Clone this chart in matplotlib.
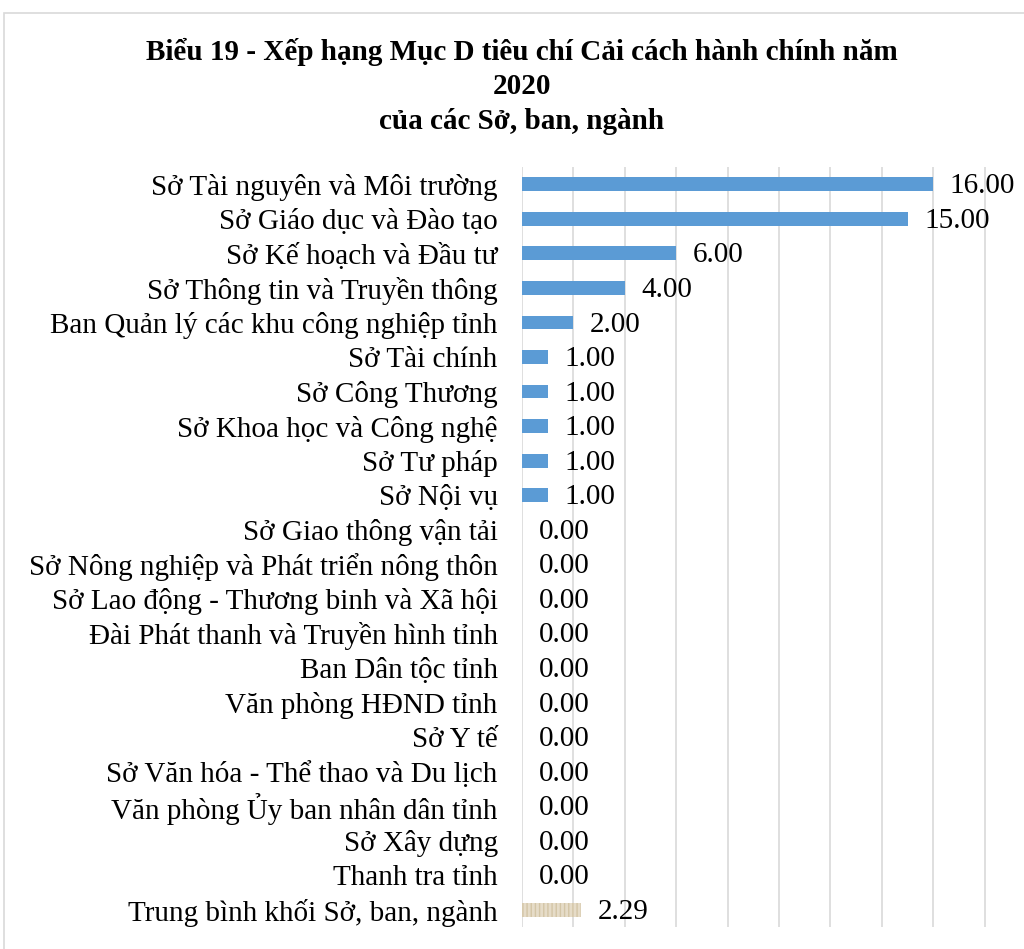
import matplotlib.pyplot as plt
from matplotlib.patches import Rectangle

plt.rcParams['font.family'] = ['Liberation Serif', 'DejaVu Serif']

units = ['Sở Tài nguyên và Môi trường', 'Sở Giáo dục và Đào tạo', 'Sở Kế hoạch và Đầu tư',
         'Sở Thông tin và Truyền thông', 'Ban Quản lý các khu công nghiệp tỉnh', 'Sở Tài chính',
         'Sở Công Thương', 'Sở Khoa học và Công nghệ', 'Sở Tư pháp', 'Sở Nội vụ',
         'Sở Giao thông vận tải', 'Sở Nông nghiệp và Phát triển nông thôn',
         'Sở Lao động - Thương binh và Xã hội', 'Đài Phát thanh và Truyền hình tỉnh',
         'Ban Dân tộc tỉnh', 'Văn phòng HĐND tỉnh', 'Sở Y tế', 'Sở Văn hóa - Thể thao và Du lịch',
         'Văn phòng Ủy ban nhân dân tỉnh', 'Sở Xây dựng', 'Thanh tra tỉnh']
scores = [16, 15, 6, 4, 2, 1, 1, 1, 1, 1, 0, 0, 0, 0, 0, 0, 0, 0, 0, 0, 0]
avg_label = 'Trung bình khối Sở, ban, ngành'
avg_score = 2.29

labels = units + [avg_label]
values = scores + [avg_score]

fig = plt.figure(figsize=(10.24, 9.49), dpi=100)
# chart area border (right/bottom edges fall outside the picture)
fig.patches.append(Rectangle((4 / 1024, -0.1), 1.2, 1 - 13 / 949 + 0.1, transform=fig.transFigure,
                             fill=False, edgecolor='#d9d9d9', linewidth=1.2))

ax = fig.add_axes([522 / 1024, 1 - 927 / 949, 514 / 1024, 760 / 949])

pos = list(range(len(labels)))
bars = ax.barh(pos, values, height=0.4, color='#5b9bd5', zorder=3)
bars[-1].set_facecolor('#e6dcc8')
bars[-1].set_hatch('||||')
bars[-1].set_edgecolor('#d3c5a6')
bars[-1].set_linewidth(0)

for p, v in zip(pos, values):
    ax.annotate(f'{v:.2f}', (v, p), xytext=(12, -1.5), textcoords='offset points',
                va='center', ha='left', fontsize=21)

ax.set_xlim(0, 20)
ax.set_ylim(len(labels) - 0.5, -0.5)
ax.set_xticks(range(0, 21, 2))
ax.set_xticklabels([])
ax.set_yticks(pos)
ax.set_yticklabels(labels, fontsize=21)
ax.tick_params(axis='both', length=0)
ax.tick_params(axis='y', pad=17.5)
ax.grid(axis='x', color='#d9d9d9', linewidth=1.2, zorder=0)
for s in ax.spines.values():
    s.set_visible(False)

fig.text(522 / 1024, 1 - 86 / 949,
         'Biểu 19 - Xếp hạng Mục D tiêu chí Cải cách hành chính năm\n2020\ncủa các Sở, ban, ngành',
         ha='center', va='center', fontsize=21, fontweight='bold', linespacing=1.36)

fig.savefig('out.png', dpi=100)
